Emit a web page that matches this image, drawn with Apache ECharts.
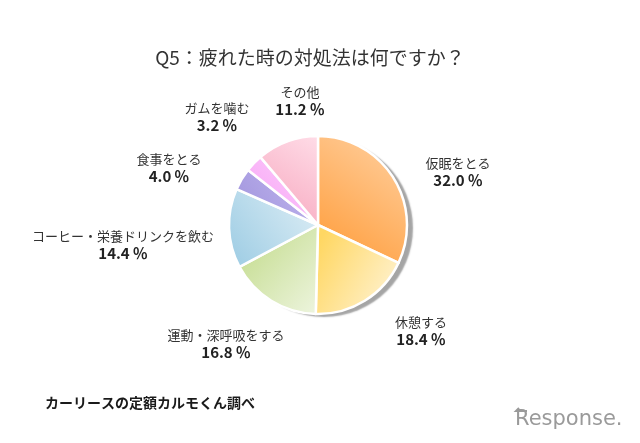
<!DOCTYPE html>
<html><head><meta charset="utf-8">
<script src="https://cdn.jsdelivr.net/npm/echarts@6/dist/echarts.min.js"></script>
<style>html,body{margin:0;padding:0;background:#fff}#c{width:640px;height:443px}</style>
</head><body><div id="c"></div>
<script>
var categories = ['仮眠をとる','休憩する','運動・深呼吸をする','コーヒー・栄養ドリンクを飲む','食事をとる','ガムを噛む','その他'];
var values = [32.0, 18.4, 16.8, 14.4, 4.0, 3.2, 11.2];
var titleText = 'Q5：疲れた時の対処法は何ですか？';
var sourceText = 'カーリースの定額カルモくん調べ';

// label anchor points (layout only)
var labelPos = [[458,172],[421,331],[226,344],[123,245],[169,168],[217,117],[300,101]];
// gradient styles [dark, light, x, y, x2, y2]
var grads = [
  ['#ff9a35','#ffd2a4',0,1,1,0],
  ['#ffd763','#fff3d4',0,0.3,1,0.8],
  ['#c4dc8e','#eef5e0',0,0.2,1,1],
  ['#9bcbe3','#dcedf5',0,1,1,0.2],
  ['#9f92dc','#c3b9ef',0,1,1,0],
  ['#f7a0f5','#fcd0fb',0,1,1,0],
  ['#f6a3bb','#ffdde8',0,1,1,0]
];
var font = '"Noto Sans CJK JP","Noto Sans",sans-serif';
var data = categories.map(function(n,i){
  var g = grads[i];
  return {name:n, value:values[i], itemStyle:{color:new echarts.graphic.LinearGradient(g[2],g[3],g[4],g[5],[{offset:0,color:g[0]},{offset:1,color:g[1]}])}};
});
var chart = echarts.init(document.getElementById('c'));
chart.setOption({
  backgroundColor:'#fff',
  animation:false,
  title:{text:titleText,left:305,top:43,textAlign:'center',textStyle:{fontFamily:font,fontSize:19,fontWeight:'normal',color:'#333'}},
  graphic:[
    {type:'text',left:45,top:396,style:{text:sourceText,font:'bold 14px '+font,fill:'#1a1a1a'}},
    {type:'text',left:515,top:409,style:{text:'Response.',font:'21px "DejaVu Sans",sans-serif',fill:'#9a9a9a'}},
    {type:'polyline',shape:{points:[[527,411],[516,411],[519,408]]},style:{stroke:'#9a9a9a',lineWidth:2,fill:null}}
  ],
  series:[
    {type:'pie',center:[318,225],radius:89,silent:true,startAngle:90,label:{show:false},labelLine:{show:false},
     data:[{value:1,itemStyle:{color:'#fff',shadowColor:'rgba(165,165,165,1)',shadowBlur:1.5,shadowOffsetX:6,shadowOffsetY:3}}]},
    {type:'pie',center:[318,225],radius:89,startAngle:90,clockwise:true,data:data,
     itemStyle:{borderColor:'#fff',borderWidth:2.5},
     labelLine:{show:false},
     label:{show:true,position:'outside',overflow:'none',formatter:function(p){return '{n|'+p.name+'}\n{p|'+p.value.toFixed(1)+'\u2009％}';},
       align:'center',
       rich:{n:{fontFamily:font,fontSize:13,color:'#333',lineHeight:17,align:'center'},p:{fontFamily:font,fontSize:15,fontWeight:'bold',color:'#222',lineHeight:18,align:'center'}}},
     labelLayout:function(params){var p=labelPos[params.dataIndex];return {x:p[0],y:p[1],align:'center',verticalAlign:'middle'};}
    }
  ]
});
</script></body></html>
